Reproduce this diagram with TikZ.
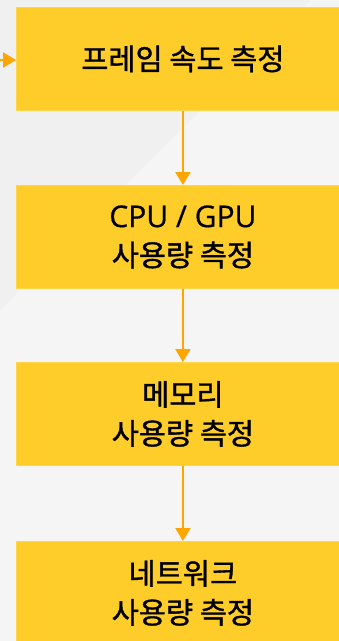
\documentclass[tikz,border=0pt]{standalone}
\usepackage{fontspec}
\setmainfont{Noto Sans CJK KR}
\newfontfamily\medfont[FakeBold=1.2]{Noto Sans CJK KR}
\newfontfamily\latinfont[FakeBold=0.6]{Open Sans}
\usetikzlibrary{arrows.meta}
\definecolor{bgA}{HTML}{F0F0F0}
\definecolor{bgB}{HTML}{F5F5F5}
\definecolor{boxfill}{HTML}{FFCD2A}
\definecolor{boxline}{HTML}{FFD54A}
\definecolor{arr}{HTML}{FFA500}
\tikzset{
  stepbox/.style={fill=boxfill, draw=boxline, line width=0.8pt, minimum width=333pt, minimum height=103pt, align=center, font=\fontsize{29.5}{39}\selectfont\medfont, text=black, inner sep=0pt},
  flow/.style={draw=arr, line width=2pt, -{Triangle[length=13pt,width=15pt]}}
}
\begin{document}
\begin{tikzpicture}[x=1pt,y=-1pt]
\useasboundingbox (0,0) rectangle (339,641);
\fill[bgB] (0,0) rectangle (339,641);
\fill[bgA] (0,0) -- (310,0) -- (0,310) -- cycle;
\node[stepbox, anchor=north west] (b1) at (16,7) {프레임 속도 측정};
\node[stepbox, anchor=north west] (b2) at (16,185) {{\latinfont\fontsize{30}{39}\selectfont CPU / GPU}\\사용량 측정};
\node[stepbox, anchor=north west] (b3) at (16,362) {메모리\\사용량 측정};
\node[stepbox, anchor=north west] (b4) at (16,541) {네트워크\\사용량 측정};
\coordinate (in) at (0,60);
\draw[flow] (in) -- (b1.west |- in);
\draw[flow] (b1.south) -- (b2.north);
\draw[flow] (b2.south) -- (b3.north);
\draw[flow] (b3.south) -- (b4.north);
\end{tikzpicture}
\end{document}
